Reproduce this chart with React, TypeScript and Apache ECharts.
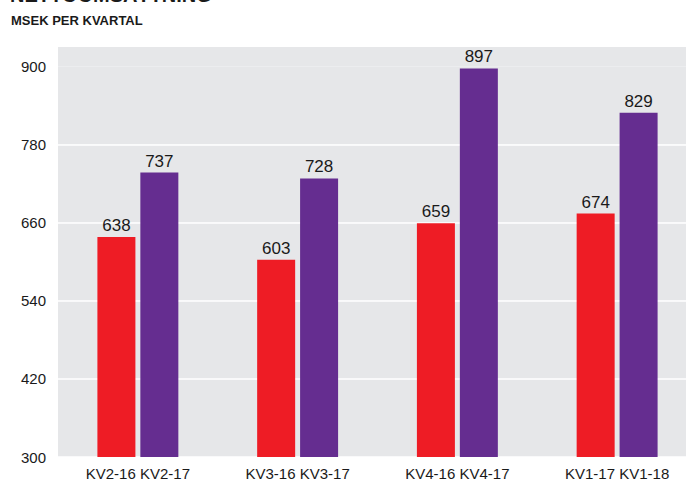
import React, { useEffect, useRef } from "react";
import * as echarts from "echarts";

const categories = ["KV2-16 KV2-17", "KV3-16 KV3-17", "KV4-16 KV4-17", "KV1-17 KV1-18"];
const previousYear = [638, 603, 659, 674];
const currentYear = [737, 728, 897, 829];
const yTicks = [300, 420, 540, 660, 780, 900];
const titleText = "NETTOOMSÄTTNING";
const subtitleText = "MSEK PER KVARTAL";

export default function App() {
  const ref = useRef<HTMLDivElement>(null);
  useEffect(() => {
    const chart = echarts.init(ref.current!, null, { renderer: "svg" });
    const font = "'Liberation Sans', Arial, sans-serif";
    chart.setOption({
      animation: false,
      backgroundColor: "#ffffff",
      textStyle: { fontFamily: font },
      graphic: [
        {
          type: "text",
          left: 10,
          top: -15,
          style: { text: titleText, font: `bold 20px ${font}`, fill: "#1a1a1a" },
        },
        {
          type: "text",
          left: 11,
          top: 14,
          style: { text: subtitleText, font: `bold 13px ${font}`, fill: "#1a1a1a" },
        },
      ],
      grid: { left: 58, top: 47, width: 639, height: 411, containLabel: false },
      xAxis: {
        type: "category",
        data: categories,
        axisLine: { show: false },
        axisTick: { show: false },
        axisLabel: { color: "#1a1a1a", fontSize: 15, margin: 9, fontFamily: font },
        splitArea: { show: false },
      },
      yAxis: {
        type: "value",
        min: yTicks[0],
        max: 930,
        interval: 120,
        axisLine: { show: false },
        axisTick: { show: false },
        axisLabel: {
          color: "#1a1a1a",
          fontSize: 15,
          margin: 12,
          fontFamily: font,
          formatter: (v: number) => (yTicks.includes(v) ? String(v) : ""),
        },
        splitLine: {
          show: true,
          lineStyle: {
            color: ["#ffffff", "#ffffff", "#ffffff", "#ffffff", "#ffffff", "rgba(0,0,0,0)", "rgba(0,0,0,0)"],
            width: 1.5,
          },
        },
        splitArea: { show: true, areaStyle: { color: ["#e6e7e9"] } },
      },
      series: [
        {
          type: "bar",
          data: previousYear,
          barWidth: 38,
          barGap: "13%",
          itemStyle: { color: "#ee1c25" },
          label: { show: true, position: "top", color: "#1a1a1a", fontSize: 17, distance: 3, fontFamily: font },
        },
        {
          type: "bar",
          data: currentYear,
          barWidth: 38,
          barGap: "13%",
          itemStyle: { color: "#652d90" },
          label: { show: true, position: "top", color: "#1a1a1a", fontSize: 17, distance: 3, fontFamily: font },
        },
      ],
    });
    return () => chart.dispose();
  }, []);
  return (
    <div style={{ position: "fixed", left: 0, top: 0, width: 686, height: 481, overflow: "hidden" }}>
      <div ref={ref} style={{ width: 700, height: 481 }} />
    </div>
  );
}
